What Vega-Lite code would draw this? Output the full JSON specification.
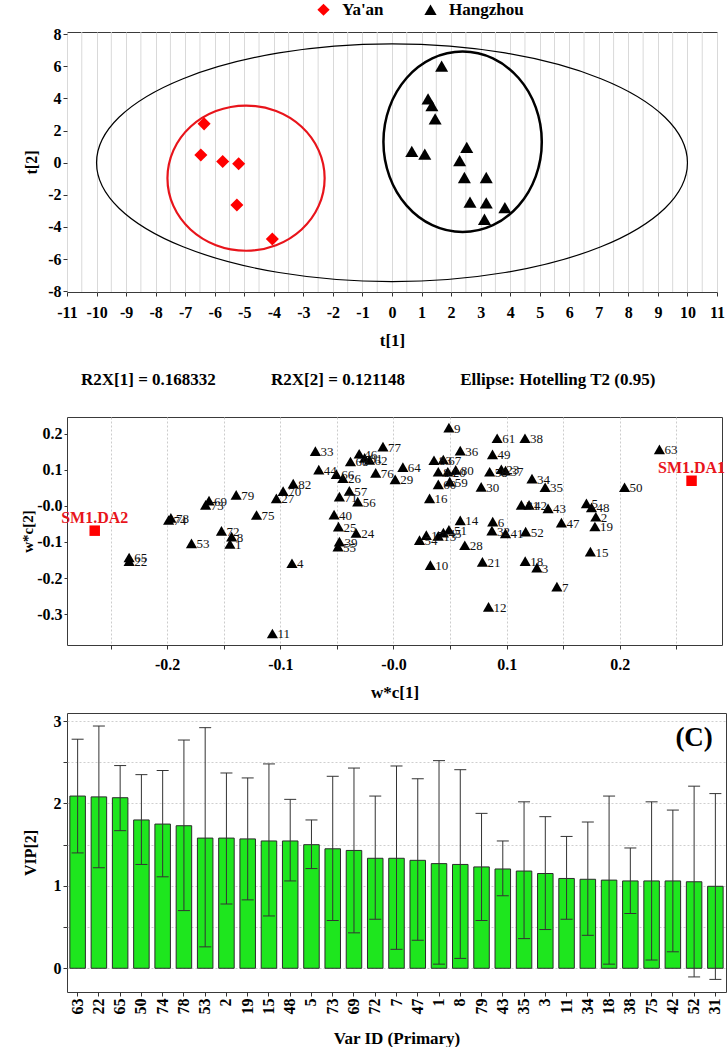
{
  "$schema": "https://vega.github.io/schema/vega-lite/v6.json",
  "background": "white",
  "padding": {"left": 20, "top": 1, "right": 0, "bottom": 0},
  "spacing": 11,
  "datasets": {
    "scores": [
      {"group": "Ya'an", "t1": -6.36, "t2": 2.42},
      {"group": "Ya'an", "t1": -6.47, "t2": 0.48},
      {"group": "Ya'an", "t1": -5.73, "t2": 0.08},
      {"group": "Ya'an", "t1": -5.19, "t2": -0.06},
      {"group": "Ya'an", "t1": -5.25, "t2": -2.63},
      {"group": "Ya'an", "t1": -4.05, "t2": -4.75},
      {"group": "Hangzhou", "t1": 1.68, "t2": 6.02},
      {"group": "Hangzhou", "t1": 1.22, "t2": 3.98},
      {"group": "Hangzhou", "t1": 1.35, "t2": 3.56},
      {"group": "Hangzhou", "t1": 1.46, "t2": 2.73},
      {"group": "Hangzhou", "t1": 0.67, "t2": 0.71},
      {"group": "Hangzhou", "t1": 1.11, "t2": 0.54},
      {"group": "Hangzhou", "t1": 2.53, "t2": 0.96},
      {"group": "Hangzhou", "t1": 2.29, "t2": 0.13},
      {"group": "Hangzhou", "t1": 2.45, "t2": -0.92},
      {"group": "Hangzhou", "t1": 3.19, "t2": -0.92},
      {"group": "Hangzhou", "t1": 2.64, "t2": -2.46},
      {"group": "Hangzhou", "t1": 3.19, "t2": -2.5},
      {"group": "Hangzhou", "t1": 3.82, "t2": -2.79},
      {"group": "Hangzhou", "t1": 3.13, "t2": -3.52}
    ],
    "gridA": [
      {"gx": -10.5}, {"gx": -9.5}, {"gx": -8.5}, {"gx": -7.5}, {"gx": -6.5}, {"gx": -5.5}, {"gx": -4.5}, {"gx": -3.5},
      {"gx": -2.5}, {"gx": -1.5}, {"gx": -0.5}, {"gx": 0.5}, {"gx": 1.5}, {"gx": 2.5}, {"gx": 3.5}, {"gx": 4.5},
      {"gx": 5.5}, {"gx": 6.5}, {"gx": 7.5}, {"gx": 8.5}, {"gx": 9.5}, {"gx": 10.5}
    ],
    "ellT2": [
      {"k": 0, "t1": 10, "t2": 0}, {"k": 1, "t1": 9.239, "t2": 2.832}, {"k": 2, "t1": 7.071, "t2": 5.233}, {"k": 3, "t1": 3.827, "t2": 6.837},
      {"k": 4, "t1": 0, "t2": 7.4}, {"k": 5, "t1": -3.827, "t2": 6.837}, {"k": 6, "t1": -7.071, "t2": 5.233}, {"k": 7, "t1": -9.239, "t2": 2.832},
      {"k": 8, "t1": -10, "t2": 0}, {"k": 9, "t1": -9.239, "t2": -2.832}, {"k": 10, "t1": -7.071, "t2": -5.233}, {"k": 11, "t1": -3.827, "t2": -6.837},
      {"k": 12, "t1": 0, "t2": -7.4}, {"k": 13, "t1": 3.827, "t2": -6.837}, {"k": 14, "t1": 7.071, "t2": -5.233}, {"k": 15, "t1": 9.239, "t2": -2.832}
    ],
    "ellY": [
      {"k": 0, "t1": -2.28, "t2": -0.96}, {"k": 1, "t1": -2.482, "t2": 0.77}, {"k": 2, "t1": -3.059, "t2": 2.236}, {"k": 3, "t1": -3.922, "t2": 3.216},
      {"k": 4, "t1": -4.94, "t2": 3.56}, {"k": 5, "t1": -5.958, "t2": 3.216}, {"k": 6, "t1": -6.821, "t2": 2.236}, {"k": 7, "t1": -7.398, "t2": 0.77},
      {"k": 8, "t1": -7.6, "t2": -0.96}, {"k": 9, "t1": -7.398, "t2": -2.69}, {"k": 10, "t1": -6.821, "t2": -4.156}, {"k": 11, "t1": -5.958, "t2": -5.136},
      {"k": 12, "t1": -4.94, "t2": -5.48}, {"k": 13, "t1": -3.922, "t2": -5.136}, {"k": 14, "t1": -3.059, "t2": -4.156}, {"k": 15, "t1": -2.482, "t2": -2.69}
    ],
    "ellH": [
      {"k": 0, "t1": 5.07, "t2": 1.3}, {"k": 1, "t1": 4.866, "t2": 3.451}, {"k": 2, "t1": 4.285, "t2": 5.274}, {"k": 3, "t1": 3.416, "t2": 6.492},
      {"k": 4, "t1": 2.39, "t2": 6.92}, {"k": 5, "t1": 1.364, "t2": 6.492}, {"k": 6, "t1": 0.495, "t2": 5.274}, {"k": 7, "t1": -0.086, "t2": 3.451},
      {"k": 8, "t1": -0.29, "t2": 1.3}, {"k": 9, "t1": -0.086, "t2": -0.851}, {"k": 10, "t1": 0.495, "t2": -2.674}, {"k": 11, "t1": 1.364, "t2": -3.892},
      {"k": 12, "t1": 2.39, "t2": -4.32}, {"k": 13, "t1": 3.416, "t2": -3.892}, {"k": 14, "t1": 4.285, "t2": -2.674}, {"k": 15, "t1": 4.866, "t2": -0.851}
    ],
    "load": [
      {"id": "1", "w1": -0.1445, "w2": -0.1056}, {"id": "2", "w1": 0.1788, "w2": -0.03}, {"id": "3", "w1": 0.1267, "w2": -0.171},
      {"id": "4", "w1": -0.0897, "w2": -0.159}, {"id": "5", "w1": 0.1705, "w2": 0.0074}, {"id": "6", "w1": 0.0877, "w2": -0.0435},
      {"id": "7", "w1": 0.1444, "w2": -0.224}, {"id": "8", "w1": -0.143, "w2": -0.085}, {"id": "9", "w1": 0.049, "w2": 0.2176},
      {"id": "10", "w1": 0.0326, "w2": -0.164}, {"id": "11", "w1": -0.107, "w2": -0.354}, {"id": "12", "w1": 0.084, "w2": -0.28},
      {"id": "13", "w1": 0.0396, "w2": -0.083}, {"id": "14", "w1": 0.059, "w2": -0.04}, {"id": "15", "w1": 0.174, "w2": -0.127},
      {"id": "16", "w1": 0.0319, "w2": 0.0213}, {"id": "17", "w1": 0.029, "w2": -0.081}, {"id": "18", "w1": 0.1164, "w2": -0.153},
      {"id": "19", "w1": 0.178, "w2": -0.057}, {"id": "20", "w1": 0.048, "w2": 0.095}, {"id": "21", "w1": 0.0786, "w2": -0.155},
      {"id": "22", "w1": -0.2336, "w2": -0.153}, {"id": "23", "w1": 0.0953, "w2": 0.102}, {"id": "24", "w1": -0.033, "w2": -0.075},
      {"id": "25", "w1": -0.0486, "w2": -0.0574}, {"id": "26", "w1": -0.0447, "w2": 0.0775}, {"id": "27", "w1": -0.1035, "w2": 0.021},
      {"id": "28", "w1": 0.063, "w2": -0.109}, {"id": "29", "w1": 0.0015, "w2": 0.074}, {"id": "30", "w1": 0.0775, "w2": 0.053},
      {"id": "31", "w1": 0.113, "w2": 0.003}, {"id": "32", "w1": 0.087, "w2": -0.0685}, {"id": "33", "w1": -0.069, "w2": 0.1525},
      {"id": "34", "w1": 0.1224, "w2": 0.076}, {"id": "35", "w1": 0.134, "w2": 0.052}, {"id": "36", "w1": 0.059, "w2": 0.1537},
      {"id": "37", "w1": 0.099, "w2": 0.098}, {"id": "38", "w1": 0.1162, "w2": 0.188}, {"id": "39", "w1": -0.0478, "w2": -0.099},
      {"id": "40", "w1": -0.0525, "w2": -0.024}, {"id": "41", "w1": 0.099, "w2": -0.076}, {"id": "42", "w1": 0.1198, "w2": 0.003},
      {"id": "43", "w1": 0.1366, "w2": -0.0065}, {"id": "44", "w1": -0.066, "w2": 0.101}, {"id": "45", "w1": 0.0441, "w2": -0.074},
      {"id": "46", "w1": -0.0303, "w2": 0.145}, {"id": "47", "w1": 0.1484, "w2": -0.046}, {"id": "48", "w1": 0.175, "w2": -0.004},
      {"id": "49", "w1": 0.0875, "w2": 0.143}, {"id": "50", "w1": 0.2042, "w2": 0.052}, {"id": "51", "w1": 0.049, "w2": -0.066},
      {"id": "52", "w1": 0.1168, "w2": -0.071}, {"id": "53", "w1": -0.1785, "w2": -0.104}, {"id": "54", "w1": 0.023, "w2": -0.095},
      {"id": "55", "w1": -0.049, "w2": -0.113}, {"id": "56", "w1": -0.0316, "w2": 0.012}, {"id": "57", "w1": -0.039, "w2": 0.0417},
      {"id": "58", "w1": 0.085, "w2": 0.095}, {"id": "59", "w1": 0.0497, "w2": 0.0676}, {"id": "60", "w1": 0.0396, "w2": 0.06},
      {"id": "61", "w1": 0.0916, "w2": 0.188}, {"id": "62", "w1": -0.0212, "w2": 0.128}, {"id": "63", "w1": 0.235, "w2": 0.157},
      {"id": "64", "w1": 0.0083, "w2": 0.108}, {"id": "65", "w1": -0.2336, "w2": -0.143}, {"id": "66", "w1": -0.0505, "w2": 0.0885},
      {"id": "67", "w1": 0.044, "w2": 0.129}, {"id": "68", "w1": -0.038, "w2": 0.1235}, {"id": "69", "w1": -0.163, "w2": 0.015},
      {"id": "70", "w1": -0.0975, "w2": 0.041}, {"id": "71", "w1": -0.0478, "w2": 0.026}, {"id": "72", "w1": -0.152, "w2": -0.069},
      {"id": "73", "w1": -0.166, "w2": 0.003}, {"id": "74", "w1": -0.1987, "w2": -0.039}, {"id": "75", "w1": -0.121, "w2": -0.025},
      {"id": "76", "w1": -0.0157, "w2": 0.092}, {"id": "77", "w1": -0.0093, "w2": 0.165}, {"id": "78", "w1": -0.1967, "w2": -0.033},
      {"id": "79", "w1": -0.139, "w2": 0.0306}, {"id": "80", "w1": 0.055, "w2": 0.1}, {"id": "81", "w1": -0.0255, "w2": 0.1337},
      {"id": "82", "w1": -0.0886, "w2": 0.062}, {"id": "83", "w1": 0.0358, "w2": 0.127}, {"id": "84", "w1": 0.0396, "w2": 0.095}
    ],
    "dmod": [
      {"id": "SM1.DA1", "w1": 0.2634, "w2": 0.07},
      {"id": "SM1.DA2", "w1": -0.264, "w2": -0.0686}
    ],
    "vip": [
      {"var": "63", "vip": 2.09, "lo": 1.4, "hi": 2.78},
      {"var": "22", "vip": 2.08, "lo": 1.22, "hi": 2.94},
      {"var": "65", "vip": 2.07, "lo": 1.67, "hi": 2.46},
      {"var": "50", "vip": 1.8, "lo": 1.26, "hi": 2.35},
      {"var": "74", "vip": 1.75, "lo": 1.11, "hi": 2.4},
      {"var": "78", "vip": 1.73, "lo": 0.7, "hi": 2.77},
      {"var": "53", "vip": 1.58, "lo": 0.26, "hi": 2.92},
      {"var": "2", "vip": 1.58, "lo": 0.78, "hi": 2.37},
      {"var": "19", "vip": 1.57, "lo": 0.83, "hi": 2.31},
      {"var": "15", "vip": 1.545, "lo": 0.635, "hi": 2.48},
      {"var": "48", "vip": 1.545, "lo": 1.06, "hi": 2.05},
      {"var": "5", "vip": 1.5, "lo": 1.21, "hi": 1.8},
      {"var": "73", "vip": 1.45, "lo": 0.58, "hi": 2.33},
      {"var": "69", "vip": 1.43, "lo": 0.43, "hi": 2.43},
      {"var": "72", "vip": 1.335, "lo": 0.595, "hi": 2.09},
      {"var": "7", "vip": 1.335, "lo": 0.23, "hi": 2.455},
      {"var": "47", "vip": 1.31, "lo": 0.34, "hi": 2.3},
      {"var": "1", "vip": 1.27, "lo": 0.05, "hi": 2.52},
      {"var": "8", "vip": 1.26, "lo": 0.12, "hi": 2.41},
      {"var": "79", "vip": 1.23, "lo": 0.58, "hi": 1.88},
      {"var": "43", "vip": 1.205, "lo": 0.88, "hi": 1.545},
      {"var": "35", "vip": 1.18, "lo": 0.36, "hi": 2.02},
      {"var": "3", "vip": 1.15, "lo": 0.47, "hi": 1.84},
      {"var": "11", "vip": 1.09, "lo": 0.595, "hi": 1.6},
      {"var": "34", "vip": 1.08, "lo": 0.4, "hi": 1.775},
      {"var": "18", "vip": 1.07, "lo": 0.05, "hi": 2.09},
      {"var": "38", "vip": 1.06, "lo": 0.665, "hi": 1.46},
      {"var": "75", "vip": 1.06, "lo": 0.1, "hi": 2.02},
      {"var": "42", "vip": 1.06, "lo": 0.2, "hi": 1.92},
      {"var": "52", "vip": 1.05, "lo": -0.105, "hi": 2.21},
      {"var": "31", "vip": 0.995, "lo": -0.135, "hi": 2.12}
    ]
  },
  "vconcat": [
    {
      "width": 650,
      "height": 260,
      "layer": [
        {
          "data": {"name": "gridA"},
          "mark": {"type": "rule", "color": "#d9d9d9", "strokeWidth": 1},
          "encoding": {"x": {"field": "gx", "type": "quantitative"}}
        },
        {
          "mark": {"type": "rule", "color": "#cfcfcf", "strokeWidth": 1},
          "encoding": {"y": {"datum": 5, "type": "quantitative"}}
        },
        {
          "mark": {"type": "rule", "color": "#cfcfcf", "strokeWidth": 1},
          "encoding": {"y": {"datum": -5, "type": "quantitative"}}
        },
        {
          "data": {"name": "ellT2"},
          "mark": {"type": "line", "interpolate": "cardinal-closed", "color": "#000000", "strokeWidth": 1.2},
          "encoding": {
            "x": {"field": "t1", "type": "quantitative"},
            "y": {"field": "t2", "type": "quantitative"},
            "order": {"field": "k", "type": "quantitative"}
          }
        },
        {
          "data": {"name": "ellY"},
          "mark": {"type": "line", "interpolate": "cardinal-closed", "color": "#e8141b", "strokeWidth": 2.2},
          "encoding": {
            "x": {"field": "t1", "type": "quantitative"},
            "y": {"field": "t2", "type": "quantitative"},
            "order": {"field": "k", "type": "quantitative"}
          }
        },
        {
          "data": {"name": "ellH"},
          "mark": {"type": "line", "interpolate": "cardinal-closed", "color": "#000000", "strokeWidth": 2.5},
          "encoding": {
            "x": {"field": "t1", "type": "quantitative"},
            "y": {"field": "t2", "type": "quantitative"},
            "order": {"field": "k", "type": "quantitative"}
          }
        },
        {
          "mark": {"type": "rule", "color": "#000000", "strokeWidth": 1},
          "encoding": {"x": {"datum": 0, "type": "quantitative"}}
        },
        {
          "mark": {"type": "rule", "color": "#000000", "strokeWidth": 1},
          "encoding": {"y": {"datum": 0, "type": "quantitative"}}
        },
        {
          "data": {"name": "scores"},
          "mark": {"type": "point", "filled": true, "opacity": 1, "size": 170, "strokeWidth": 0},
          "encoding": {
            "x": {
              "field": "t1", "type": "quantitative",
              "scale": {"domain": [-11, 11], "nice": false, "zero": false},
              "axis": {
                "title": "t[1]",
                "values": [-11, -10, -9, -8, -7, -6, -5, -4, -3, -2, -1, 0, 1, 2, 3, 4, 5, 6, 7, 8, 9, 10, 11],
                "tickCount": 60,
                "labelExpr": "datum.value < 0 ? '-' + abs(datum.value) : '' + datum.value",
                "labelOverlap": false,
                "grid": true, "gridColor": "#d9d9d9", "gridWidth": 1,
                "tickSize": 4, "labelPadding": 8, "titlePadding": 12, "titleFontSize": 17
              }
            },
            "y": {
              "field": "t2", "type": "quantitative",
              "scale": {"domain": [-8.05, 8.14], "nice": false, "zero": false},
              "axis": {
                "title": "t[2]",
                "values": [-8, -6, -4, -2, 0, 2, 4, 6, 8],
                "tickCount": 60,
                "labelExpr": "datum.value < 0 ? '-' + abs(datum.value) : '' + datum.value",
                "labelOverlap": false,
                "grid": false,
                "tickSize": 4, "labelPadding": 2, "titlePadding": 8, "titleFontSize": 16
              }
            },
            "shape": {
              "field": "group", "type": "nominal",
              "scale": {"domain": ["Ya'an", "Hangzhou"], "range": ["diamond", "triangle-up"]},
              "legend": {"orient": "none", "legendX": 248, "legendY": -31, "direction": "horizontal", "title": null, "labelFont": "Liberation Serif", "labelFontSize": 17, "labelFontWeight": "bold", "labelColor": "#000000", "symbolSize": 150, "symbolStrokeWidth": 0, "labelOffset": 10, "columnPadding": 38, "padding": 0}
            },
            "color": {
              "field": "group", "type": "nominal",
              "scale": {"domain": ["Ya'an", "Hangzhou"], "range": ["#ff0000", "#000000"]},
              "legend": {"orient": "none", "legendX": 248, "legendY": -31, "direction": "horizontal", "title": null, "labelFont": "Liberation Serif", "labelFontSize": 17, "labelFontWeight": "bold", "labelColor": "#000000", "symbolSize": 150, "symbolStrokeWidth": 0, "labelOffset": 10, "columnPadding": 38, "padding": 0}
            }
          }
        },
        {
          "mark": {"type": "text", "text": "(A)", "font": "Liberation Serif", "fontSize": 27, "fontWeight": "bold", "align": "center", "baseline": "middle", "color": "#000000"},
          "encoding": {"x": {"datum": 10.0}, "y": {"datum": 7.05}}
        }
      ]
    },
    {
      "width": 655,
      "height": 228,
      "title": {
        "text": ["\u00a0", "R2X[1] = 0.168332\u00a0\u00a0\u00a0\u00a0\u00a0\u00a0\u00a0\u00a0\u00a0\u00a0\u00a0\u00a0\u00a0R2X[2] = 0.121148\u00a0\u00a0\u00a0\u00a0\u00a0\u00a0\u00a0\u00a0\u00a0\u00a0\u00a0\u00a0\u00a0Ellipse: Hotelling T2 (0.95)"],
        "anchor": "start", "frame": "group", "dx": 14, "offset": 15, "baseline": "alphabetic", "lineHeight": 10,
        "font": "Liberation Serif", "fontSize": 17, "fontWeight": "bold", "color": "#000000"
      },
      "layer": [
        {
          "mark": {"type": "rule", "color": "#c8c8c8", "strokeWidth": 1},
          "encoding": {"y": {"datum": -0.25, "type": "quantitative"}}
        },
        {
          "mark": {"type": "rule", "color": "#000000", "strokeWidth": 1},
          "encoding": {"x": {"datum": 0, "type": "quantitative"}}
        },
        {
          "mark": {"type": "rule", "color": "#000000", "strokeWidth": 1},
          "encoding": {"y": {"datum": 0, "type": "quantitative"}}
        },
        {
          "data": {"name": "load"},
          "mark": {"type": "point", "shape": "triangle-up", "filled": true, "color": "#000000", "opacity": 1, "size": 125, "strokeWidth": 0},
          "encoding": {
            "x": {
              "field": "w1", "type": "quantitative",
              "scale": {"domain": [-0.2885, 0.2903], "nice": false, "zero": false},
              "axis": {
                "title": "w*c[1]",
                "values": [-0.25, -0.2, -0.15, -0.1, -0.05, 0, 0.05, 0.1, 0.15, 0.2, 0.25],
                "tickCount": 60,
                "labelExpr": "round(datum.value * 20) % 2 === 0 ? ((datum.value <= 0 ? '-' : '') + format(abs(datum.value), '.1f')) : ''",
                "labelOverlap": false,
                "grid": true, "gridColor": "#cccccc", "gridDash": [2, 2],
                "tickSize": 4, "labelPadding": 7, "titlePadding": 12, "titleFontSize": 17
              }
            },
            "y": {
              "field": "w2", "type": "quantitative",
              "scale": {"domain": [-0.386, 0.247], "nice": false, "zero": false},
              "axis": {
                "title": "w*c[2]",
                "values": [-0.3, -0.2, -0.1, 0, 0.1, 0.2],
                "tickCount": 60,
                "labelExpr": "(datum.value <= 0 ? '-' : '') + format(abs(datum.value), '.1f')",
                "labelOverlap": false,
                "grid": false,
                "tickSize": 3, "labelPadding": 2, "titlePadding": 1, "titleFontSize": 15
              }
            }
          }
        },
        {
          "data": {"name": "load"},
          "mark": {"type": "text", "align": "left", "baseline": "middle", "dx": 5, "dy": 1, "font": "Liberation Serif", "fontSize": 13, "color": "#111111"},
          "encoding": {
            "x": {"field": "w1", "type": "quantitative"},
            "y": {"field": "w2", "type": "quantitative"},
            "text": {"field": "id", "type": "nominal"}
          }
        },
        {
          "data": {"name": "dmod"},
          "mark": {"type": "point", "shape": "square", "filled": true, "color": "#ff0000", "opacity": 1, "size": 110, "strokeWidth": 0},
          "encoding": {
            "x": {"field": "w1", "type": "quantitative"},
            "y": {"field": "w2", "type": "quantitative"}
          }
        },
        {
          "data": {"name": "dmod"},
          "mark": {"type": "text", "align": "center", "baseline": "middle", "dy": -13, "font": "Liberation Serif", "fontSize": 16, "fontWeight": "bold", "color": "#e8141b"},
          "encoding": {
            "x": {"field": "w1", "type": "quantitative"},
            "y": {"field": "w2", "type": "quantitative"},
            "text": {"field": "id", "type": "nominal"}
          }
        },
        {
          "mark": {"type": "text", "text": "(B)", "font": "Liberation Serif", "fontSize": 27, "fontWeight": "bold", "align": "center", "baseline": "middle", "color": "#000000"},
          "encoding": {"x": {"datum": 0.266}, "y": {"datum": 0.178}}
        }
      ]
    },
    {
      "width": 659,
      "height": 279,
      "data": {"name": "vip"},
      "encoding": {
        "x": {
          "field": "var", "type": "nominal", "sort": null,
          "scale": {"paddingInner": 0.27, "paddingOuter": 0.135},
          "axis": {"title": "Var ID (Primary)", "labelAngle": -90, "labelOverlap": false, "tickSize": 4, "labelPadding": 2, "titlePadding": 16, "titleFontSize": 17}
        }
      },
      "layer": [
        {
          "mark": {"type": "bar", "color": "#1ee61e", "stroke": "#2b2b2b", "strokeWidth": 1},
          "encoding": {
            "y": {
              "field": "vip", "type": "quantitative",
              "scale": {"domain": [-0.288, 3.098], "nice": false},
              "axis": {
                "title": "VIP[2]",
                "values": [0, 0.5, 1, 1.5, 2, 2.5, 3],
                "tickCount": 60,
                "labelExpr": "datum.value % 1 === 0 ? '' + datum.value : ''",
                "labelOverlap": false,
                "grid": true, "gridColor": "#cfcfcf", "gridDash": [2, 2],
                "tickSize": 4, "labelPadding": 2, "titlePadding": 15, "titleFontSize": 16
              }
            }
          }
        },
        {
          "mark": {"type": "rule", "color": "#333333", "strokeWidth": 1},
          "encoding": {
            "y": {"field": "lo", "type": "quantitative"},
            "y2": {"field": "hi"}
          }
        },
        {
          "mark": {"type": "tick", "color": "#333333", "thickness": 1, "size": 12, "opacity": 1},
          "encoding": {"y": {"field": "lo", "type": "quantitative"}}
        },
        {
          "mark": {"type": "tick", "color": "#333333", "thickness": 1, "size": 12, "opacity": 1},
          "encoding": {"y": {"field": "hi", "type": "quantitative"}}
        },
        {
          "data": {"values": [{"panel": "C"}]},
          "mark": {"type": "text", "text": "(C)", "font": "Liberation Serif", "fontSize": 27, "fontWeight": "bold", "align": "center", "baseline": "middle", "color": "#000000"},
          "encoding": {"x": {"datum": "52"}, "y": {"datum": 2.795}}
        }
      ]
    }
  ],
  "config": {
    "view": {"stroke": "#3a3a3a", "strokeWidth": 1},
    "font": "Liberation Serif",
    "axis": {
      "labelFont": "Liberation Serif", "labelFontSize": 16, "labelFontWeight": "bold", "labelColor": "#000000",
      "titleFont": "Liberation Serif", "titleFontSize": 17, "titleFontWeight": "bold", "titleColor": "#000000",
      "domain": false, "tickColor": "#333333", "grid": false,
      "labelOverlap": false, "labelBound": false, "labelFlush": false
    },
    "title": {"font": "Liberation Serif", "fontWeight": "bold", "color": "#000000"}
  }
}
